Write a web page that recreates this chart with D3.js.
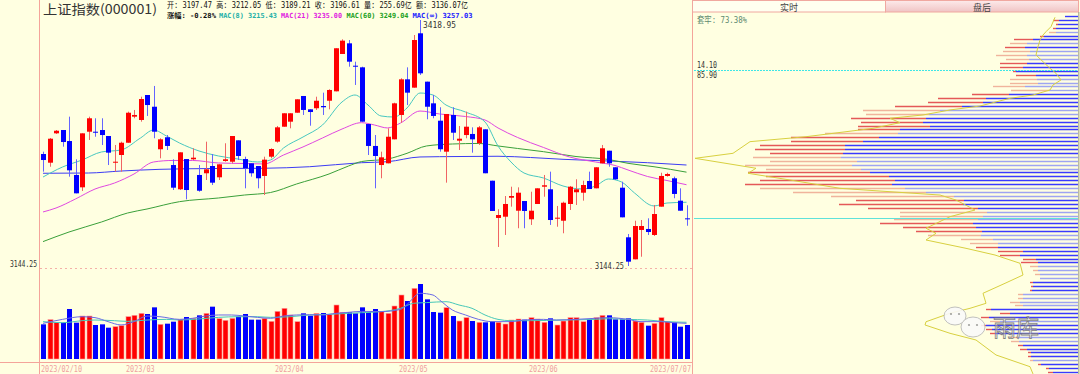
<!DOCTYPE html>
<html>
<head>
<meta charset="utf-8">
<script src="https://cdn.jsdelivr.net/npm/d3@7"></script>
<style>
  html, body { margin: 0; padding: 0; background: #ffffe1; }
  svg { display: block; }
</style>
</head>
<body>
<div id="container"></div>
<script>
/* CONSTANTS AND GLOBALS */
const width = 1080;
const height = 374;
const mono = "'DejaVu Sans Mono', 'Noto Sans CJK SC', monospace";
const cjk = "'Noto Sans CJK SC', 'DejaVu Sans', sans-serif";

/* DATA: daily candles 2023/02/10 - 2023/07/07 */
const open = [3269.3,3259.6,3292.4,3296.1,3283.8,3245.9,3232.1,3294.2,3294.2,3296.1,
  3289.4,3259.6,3268.2,3281.9,3311.0,3307.3,3335.2,3322.1,3274.6,3288.0,
  3257.0,3229.9,3263.7,3263.4,3245.9,3247.8,3255.9,3243.3,3261.5,3260.7,
  3284.6,3263.7,3258.9,3255.9,3244.8,3266.3,3283.1,3299.8,3305.4,3315.4,
  3334.1,3319.2,3320.4,3322.9,3328.8,3339.3,3381.0,3392.9,3367.9,3366.1,
  3302.8,3278.3,3257.0,3258.9,3285.7,3312.9,3352.7,3343.4,3404.1,3350.1,
  3325.9,3306.5,3271.9,3312.9,3284.2,3290.5,3291.7,3281.3,3296.9,3239.5,
  3197.9,3199.3,3220.5,3206.0,3216.8,3196.4,3213.5,3232.8,3229.9,3197.1,
  3194.8,3213.5,3226.6,3226.1,3239.2,3231.0,3258.9,3273.0,3254.5,3231.7,
  3176.3,3151.7,3184.5,3185.6,3178.9,3210.5,3244.8,3242.2,3217.2,3197.47];
const high = [3271.9,3287.2,3296.1,3296.1,3311.0,3263.4,3292.4,3311.0,3309.2,3309.2,
  3289.4,3279.4,3283.1,3316.6,3318.5,3333.3,3335.2,3345.3,3286.9,3290.5,
  3263.4,3271.2,3263.7,3275.7,3257.0,3283.1,3269.3,3257.8,3281.3,3289.4,
  3284.6,3266.3,3258.9,3255.9,3266.3,3275.7,3300.6,3314.8,3314.8,3330.4,
  3334.1,3319.2,3333.3,3337.8,3341.6,3387.4,3397.4,3396.6,3372.4,3366.8,
  3302.8,3290.5,3271.9,3298.0,3326.6,3353.9,3366.1,3402.2,3418.95,3350.1,
  3335.2,3321.5,3314.0,3321.5,3300.6,3316.6,3299.1,3300.6,3296.9,3239.5,
  3207.6,3222.4,3232.8,3232.1,3216.8,3227.2,3231.0,3245.9,3249.6,3211.3,
  3216.1,3233.6,3241.1,3239.5,3249.6,3254.5,3279.4,3273.0,3254.5,3238.4,
  3180.0,3194.8,3195.6,3197.5,3212.4,3248.4,3248.4,3244.0,3231.0,3212.05];
const low = [3249.6,3255.1,3291.7,3277.5,3244.0,3225.4,3228.0,3285.0,3288.6,3279.4,
  3257.0,3249.6,3249.6,3281.9,3309.2,3305.4,3311.8,3286.9,3264.5,3273.8,
  3229.1,3229.1,3218.7,3262.6,3227.2,3240.3,3234.7,3240.3,3260.7,3258.9,
  3262.6,3231.0,3244.0,3231.0,3223.5,3264.5,3281.9,3299.8,3298.0,3315.4,
  3312.9,3300.9,3318.5,3312.9,3319.2,3339.3,3381.0,3366.8,3346.4,3305.4,
  3268.2,3231.0,3242.2,3258.9,3285.7,3304.3,3324.0,3343.4,3357.6,3308.1,
  3309.2,3271.9,3237.3,3285.0,3273.8,3286.9,3270.8,3279.4,3247.8,3205.7,
  3165.5,3178.9,3210.5,3186.4,3186.4,3190.1,3213.5,3221.6,3190.1,3188.1,
  3180.8,3206.8,3212.4,3217.2,3230.2,3231.0,3258.9,3255.1,3240.3,3198.6,
  3144.25,3151.7,3154.6,3178.9,3177.8,3210.5,3244.0,3219.9,3206.0,3189.21];
const close = [3262.6,3286.4,3295.3,3282.7,3251.1,3225.4,3292.4,3309.2,3293.3,3290.5,
  3270.8,3260.7,3281.9,3315.4,3312.9,3330.7,3324.0,3294.2,3285.7,3278.3,
  3231.7,3271.2,3229.1,3265.2,3228.3,3252.2,3237.3,3257.8,3263.4,3289.4,
  3267.1,3253.4,3247.8,3242.2,3263.0,3274.9,3299.1,3314.8,3314.8,3330.4,
  3318.5,3316.2,3328.8,3321.5,3340.8,3387.4,3395.9,3372.4,3367.6,3305.4,
  3278.3,3267.1,3265.6,3288.6,3325.9,3352.7,3337.8,3396.6,3359.4,3322.1,
  3311.8,3274.6,3314.0,3293.1,3286.4,3299.8,3285.7,3299.1,3247.8,3205.7,
  3201.2,3213.5,3222.4,3226.1,3205.7,3206.0,3231.0,3234.4,3195.6,3198.2,
  3214.9,3232.8,3229.9,3234.7,3230.2,3254.5,3275.7,3258.9,3241.1,3198.6,
  3149.1,3188.9,3188.9,3182.2,3202.3,3244.8,3247.0,3224.7,3206.0,3196.61];
// volume, 亿股
const volume = [260.6,295.7,273.1,273.1,375.9,273.1,323.2,323.2,255.6,260.6,
  235.5,243.0,250.5,318.2,328.3,343.3,338.3,388.4,260.6,265.6,
  280.6,295.7,315.7,305.7,328.3,343.3,393.4,303.2,290.7,305.7,
  318.2,338.3,295.7,295.7,305.7,283.1,358.3,380.9,330.8,280.6,
  343.3,325.8,343.3,345.8,333.3,406.0,350.8,350.8,343.3,388.4,
  353.3,375.9,355.8,343.3,398.4,481.2,436.1,531.3,563.9,448.6,
  353.3,348.3,385.9,323.2,285.6,310.7,285.6,275.6,275.6,283.1,
  275.6,263.1,293.2,300.7,295.7,310.7,300.7,275.6,305.7,255.6,
  285.6,310.7,310.7,280.6,300.7,310.7,328.3,328.3,298.2,298.2,
  305.7,285.6,275.6,250.5,268.1,310.7,280.6,275.6,243.0,255.69];

/* cost averages read at sampled days: [day index, value] */
const mac8 = [[0,3243.6],[3,3254.8],[6,3262.6],[9,3271.6],[12,3273.8],[15,3287.2],[17,3296.1],
  [19,3289.4],[21,3281.6],[24,3272.7],[27,3267.1],[30,3263.7],[33,3260.4],[35,3262.6],[37,3276.0],
  [40,3288.3],[43,3301.7],[46,3327.4],[48,3335.2],[50,3324.0],[52,3311.8],[54,3310.6],[56,3320.7],
  [58,3337.4],[60,3335.2],[62,3324.0],[65,3316.2],[68,3305.1],[70,3278.3],[72,3260.4],[74,3248.1],
  [77,3242.5],[80,3233.6],[83,3230.2],[85,3233.6],[87,3241.4],[89,3238.1],[91,3225.8],[94,3211.3],
  [96,3214.6],[99,3215.43]];
const mac21 = [[0,3204.6],[2,3209.0],[5,3219.1],[8,3230.2],[11,3236.9],[14,3247.0],[17,3260.4],
  [20,3262.1],[23,3262.1],[27,3259.3],[31,3258.7],[34,3258.2],[37,3268.2],[40,3277.2],[43,3287.2],
  [46,3297.2],[49,3304.3],[51,3301.7],[53,3298.4],[55,3303.9],[58,3317.3],[61,3314.0],[65,3311.2],
  [68,3307.3],[70,3298.4],[73,3287.8],[77,3276.6],[81,3266.0],[85,3260.4],[88,3256.5],[90,3251.5],
  [93,3244.2],[96,3239.7],[99,3235.00]];
const mac60 = [[0,3171.5],[4,3182.2],[9,3193.4],[13,3203.4],[16,3207.9],[21,3216.1],[27,3220.2],
  [31,3223.5],[35,3226.3],[39,3235.8],[44,3247.0],[47,3255.9],[49,3260.9],[53,3263.7],[56,3270.1],
  [59,3278.3],[63,3280.5],[67,3281.1],[70,3278.3],[73,3275.5],[77,3271.9],[82,3266.5],[87,3263.2],
  [90,3258.9],[94,3255.1],[99,3249.04]];
const macInf = [[0,3247.8],[7,3248.1],[12,3250.3],[18,3252.2],[26,3253.1],[34,3253.4],[41,3255.1],
  [49,3259.6],[53,3260.7],[58,3266.0],[64,3266.5],[70,3266.8],[75,3265.4],[80,3263.4],[87,3261.5],
  [93,3259.6],[99,3257.03]];
const volMa5 = [[0,268],[3,298],[6,318],[8,311],[10,281],[12,256],[14,281],[16,323],[18,318],[21,298],
  [23,306],[25,323],[27,331],[29,331],[31,323],[33,313],[35,306],[37,323],[39,331],[41,333],[43,331],
  [45,343],[47,351],[49,358],[52,356],[55,373],[56,410],[58,494],[60,481],[61,444],[63,368],[65,331],
  [67,298],[69,281],[72,281],[74,293],[77,298],[79,293],[82,298],[85,306],[87,311],[90,298],[92,281],
  [95,281],[97,273],[99,268]];
const volMa10 = [[0,281],[3,273],[6,288],[8,293],[11,288],[13,283],[16,293],[19,298],[21,293],[24,301],
  [27,313],[30,318],[33,318],[35,313],[38,318],[41,331],[44,336],[47,343],[49,348],[52,356],[55,381],
  [57,419],[59,424],[62,431],[64,406],[66,381],[68,331],[70,298],[72,288],[75,288],[80,293],[85,298],
  [87,303],[90,298],[93,293],[96,281],[99,276]];

/* tick labels */
const tickIdx = [0, 13, 36, 55, 75, 99];
const tickLabels = ["2023/02/10", "2023/03", "2023/04", "2023/05", "2023/06", "2023/07/07"];

/* chip distribution rows, top (high price) to bottom */
const chipTotal = [13,25,22,25,29,38,64,68,73,75,82,72,78,78,65,62,68,68,85,67,
  106,140,150,183,215,212,227,217,220,220,253,287,287,318,323,308,325,308,333,312,
  330,312,318,333,318,285,247,222,239,210,178,178,184,198,175,162,150,117,108,102,
  80,78,55,57,48,45,43,38,48,47,48,60,60,68,63,92,78,97,88,97,
  92,88,68,67,60,58,50,50,48,40,32,30];
const chipRed = [0,6,2,3,7,4,19,17,20,27,31,23,27,23,3,20,27,28,32,38,
  37,48,55,67,77,63,75,62,72,42,73,88,72,85,90,73,88,87,107,95,
  122,123,135,147,145,133,123,108,124,110,87,83,84,93,73,66,53,32,28,22,
  25,20,13,17,8,5,5,0,3,2,2,5,5,10,8,5,10,8,10,5,
  6,5,8,8,5,7,3,3,3,3,3,5];
const chipFaded = [0,0,0,0,1,0,0,1,0,1,1,1,0,0,0,0,1,1,1,1,
  0,0,0,0,1,1,0,0,0,0,1,0,0,0,0,0,1,1,1,1,
  0,0,0,0,1,1,1,0,0,0,1,1,1,0,0,0,1,1,1,0,
  0,0,0,0,1,1,1,1,0,0,0,1,1,1,1,0,0,0,1,0,
  0,0,1,1,0,0,0,0,1,0,0,0];
// previous-period chip profile: [chip amount, price]
const chipPrev = [[23,3422.0],[27,3411.5],[32,3405.9],[35,3402.2],[38,3396.6],[40,3389.2],[42,3379.9],
  [35,3372.4],[28,3365.0],[22,3359.4],[17,3352.0],[25,3346.4],[28,3340.8],[45,3335.2],[68,3331.5],
  [98,3322.9],[128,3318.5],[155,3312.9],[188,3309.2],[178,3304.3],[205,3298.0],[272,3288.6],
  [328,3283.1],[345,3270.1],[383,3264.5],[322,3253.4],[330,3247.8],[288,3240.3],[238,3231.0],
  [188,3227.2],[138,3223.5],[122,3217.9],[103,3206.8],[128,3199.3],[152,3186.4],[142,3180.8],
  [152,3173.3],[112,3164.0],[83,3156.5],[58,3147.3],[55,3134.2],[73,3124.9],[95,3113.8],[92,3102.6],
  [108,3097.0],[128,3091.5],[152,3082.0],[153,3078.4],[128,3069.1],[102,3061.6],[82,3044.9],
  [48,3031.8],[45,3023.7]];

/* SVG ELEMENT */
const svg = d3.select("#container")
  .append("svg")
  .attr("width", width)
  .attr("height", height);

svg.append("rect").attr("width", width).attr("height", height).attr("fill", "#ffffe1");

/* SCALES */
const days = d3.range(open.length);
const xScale = d3.scalePoint().domain(days).range([43, 686.5]);
const cx = i => Math.round(xScale(i));
const yScale = d3.scaleLinear().domain([3144.25, 3418.95]).range([266, 20]);
const yVol = d3.scaleLinear().domain([0, 600]).range([359, 279.2]);
const xChip = d3.scaleLinear().domain([0, 384]).range([1078, 694]);
const rows = d3.range(chipTotal.length);
const yRow = d3.scalePoint().domain(rows).range([16, 372]);
const ry = r => Math.round(yRow(r)) + 0.5;

const isUp = i => close[i] >= open[i];

/* FRAME */
svg.append("line").attr("x1", 39.5).attr("x2", 39.5).attr("y1", 0).attr("y2", height)
  .attr("stroke", "#f4a49a");
svg.append("line").attr("x1", 0).attr("x2", 692).attr("y1", 362.5).attr("y2", 362.5)
  .attr("stroke", "#f4a49a");
svg.append("line").attr("x1", 692.5).attr("x2", 692.5).attr("y1", 0).attr("y2", height)
  .attr("stroke", "#f4a49a");

// lowest price guide
const lowY = Math.round(yScale(3144.25)) + 2.5;
svg.append("line").attr("x1", 40).attr("x2", 692).attr("y1", lowY).attr("y2", lowY)
  .attr("stroke", "#f4b0a8").attr("stroke-dasharray", "2,3");
svg.append("text").attr("x", 37).attr("y", lowY - 1.5).attr("text-anchor", "end")
  .attr("font-family", mono).attr("font-size", 9).attr("fill", "#333")
  .attr("textLength", 27).attr("lengthAdjust", "spacingAndGlyphs").text("3144.25");

/* AVERAGE LINES */
const line = d3.line().x(d => xScale(d[0])).y(d => yScale(d[1])).curve(d3.curveMonotoneX);
[[macInf, "#3c3cf4"], [mac60, "#3aa03a"], [mac21, "#e048e0"], [mac8, "#48c8c0"]].forEach(([s, c]) => {
  svg.append("path").datum(s).attr("d", line).attr("fill", "none").attr("stroke", c).attr("stroke-width", 1);
});

/* CANDLES */
const candles = svg.append("g").selectAll("g").data(days).join("g");
candles.append("line")
  .attr("x1", i => cx(i) + 0.5).attr("x2", i => cx(i) + 0.5)
  .attr("y1", i => yScale(high[i])).attr("y2", i => yScale(low[i]))
  .attr("stroke", i => isUp(i) ? "#f06464" : "#6464ff");
candles.append("rect")
  .attr("x", i => cx(i) - 2)
  .attr("width", 5)
  .attr("y", i => yScale(Math.max(open[i], close[i])))
  .attr("height", i => Math.max(1, Math.abs(yScale(open[i]) - yScale(close[i]))))
  .attr("fill", i => isUp(i) ? "#ff0000" : "#0000ff");

// extreme labels
const hiIdx = d3.maxIndex(high), loIdx = d3.minIndex(low);
svg.append("text").attr("x", cx(hiIdx) + 3).attr("y", yScale(high[hiIdx]) + 8)
  .attr("font-family", mono).attr("font-size", 9).attr("fill", "#333")
  .attr("textLength", 33).attr("lengthAdjust", "spacingAndGlyphs").text(d3.format(".2f")(high[hiIdx]));
svg.append("text").attr("x", cx(loIdx) - 4).attr("y", yScale(low[loIdx]) + 3)
  .attr("text-anchor", "end")
  .attr("font-family", mono).attr("font-size", 9).attr("fill", "#333")
  .attr("textLength", 29).attr("lengthAdjust", "spacingAndGlyphs").text(d3.format(".2f")(low[loIdx]));

/* VOLUME */
svg.append("g").selectAll("rect").data(days).join("rect")
  .attr("x", i => cx(i) - 2)
  .attr("width", 5)
  .attr("y", i => yVol(volume[i]))
  .attr("height", i => yVol(0) - yVol(volume[i]))
  .attr("fill", i => isUp(i) ? "#ff0000" : "#0000ff")
  .attr("stroke", i => isUp(i) ? "#ff9a9a" : "none")
  .attr("stroke-width", 0.6);

const vline = d3.line().x(d => xScale(d[0])).y(d => yVol(d[1])).curve(d3.curveMonotoneX);
svg.append("path").datum(volMa10).attr("d", vline).attr("fill", "none").attr("stroke", "#48c8b8");
svg.append("path").datum(volMa5).attr("d", vline).attr("fill", "none").attr("stroke", "#6a6ae6");

/* DATE AXIS */
svg.append("g").selectAll("text").data(tickIdx).join("text")
  .attr("x", (d, k) => k === tickIdx.length - 1 ? 691 : cx(d) - 2)
  .attr("y", 372)
  .attr("text-anchor", (d, k) => k === tickIdx.length - 1 ? "end" : "start")
  .attr("font-family", mono).attr("font-size", 9).attr("fill", "#f0a0a0")
  .attr("textLength", (d, k) => tickLabels[k].length * 4.1)
  .attr("lengthAdjust", "spacingAndGlyphs")
  .text((d, k) => tickLabels[k]);

/* TITLE AND INFO */
svg.append("text").attr("x", 43).attr("y", 13.5)
  .attr("font-family", cjk).attr("font-size", 13).attr("fill", "#333")
  .attr("textLength", 114).attr("lengthAdjust", "spacingAndGlyphs")
  .text("上证指数(000001)");

const last = open.length - 1;
svg.append("text").attr("x", 167).attr("y", 8)
  .attr("font-family", mono).attr("font-size", 8.5).attr("fill", "#111")
  .attr("textLength", 301).attr("lengthAdjust", "spacingAndGlyphs")
  .text(`开: ${open[last].toFixed(2)} 高: ${high[last].toFixed(2)} 低: ${low[last].toFixed(2)} 收: ${close[last].toFixed(2)} 量: ${volume[last].toFixed(2)}亿 额: 3136.07亿`);

// second info line
const legend = [
  { t: "涨幅: -0.28%", x: 167, w: 49, c: "#111" },
  { t: `MAC(8) ${mac8[mac8.length - 1][1].toFixed(2)}`, x: 219, w: 58, c: "#22b0a8" },
  { t: `MAC(21) ${mac21[mac21.length - 1][1].toFixed(2)}`, x: 281, w: 61, c: "#e020e0" },
  { t: `MAC(60) ${mac60[mac60.length - 1][1].toFixed(2)}`, x: 346.5, w: 62, c: "#20a020" },
  { t: `MAC(∞) ${macInf[macInf.length - 1][1].toFixed(2)}`, x: 412.5, w: 60, c: "#2020ff" }
];
svg.append("g").selectAll("text").data(legend).join("text")
  .attr("x", d => d.x).attr("y", 17.5)
  .attr("font-family", mono).attr("font-size", 7).attr("fill", d => d.c)
  .attr("font-weight", 600)
  .attr("textLength", d => d.w).attr("lengthAdjust", "spacingAndGlyphs")
  .text(d => d.t);

/* CHIP PANEL */
const defs = svg.append("defs");
const grad = defs.append("linearGradient").attr("id", "tab").attr("x1", 0).attr("x2", 0).attr("y1", 0).attr("y2", 1);
grad.append("stop").attr("offset", "0%").attr("stop-color", "#fdeaea");
grad.append("stop").attr("offset", "100%").attr("stop-color", "#f0c4c4");

svg.append("rect").attr("x", 692.5).attr("y", 0.5).attr("width", 193).attr("height", 11.5)
  .attr("fill", "#fffff0").attr("stroke", "#f0a8a0");
svg.append("rect").attr("x", 885.5).attr("y", 0.5).attr("width", 193).attr("height", 11.5)
  .attr("fill", "url(#tab)").attr("stroke", "#f0a8a0");
svg.append("text").attr("x", 789).attr("y", 10.5).attr("text-anchor", "middle")
  .attr("font-family", cjk).attr("font-size", 9).attr("fill", "#444").text("实时");
svg.append("text").attr("x", 982).attr("y", 10.5).attr("text-anchor", "middle")
  .attr("font-family", cjk).attr("font-size", 9).attr("fill", "#444").text("盘后");

const chips = svg.append("g").selectAll("g").data(rows).join("g");
chips.append("line")
  .attr("x1", r => xChip(chipTotal[r] - chipRed[r])).attr("x2", xChip(0))
  .attr("y1", ry).attr("y2", ry)
  .attr("stroke", r => chipFaded[r] ? "#9ea4f2" : "#3a3aff").attr("stroke-width", 1.4);
chips.append("line")
  .attr("x1", r => xChip(chipTotal[r])).attr("x2", r => xChip(chipTotal[r] - chipRed[r]))
  .attr("y1", ry).attr("y2", ry)
  .attr("stroke", r => chipFaded[r] ? "#f0b49c" : "#e45858").attr("stroke-width", 1.4);

svg.append("path").datum(chipPrev)
  .attr("d", d3.line().x(d => xChip(d[0])).y(d => yScale(d[1])))
  .attr("fill", "none").attr("stroke", "#d8d040").attr("stroke-width", 1);

// 90% cost band marker and current price
svg.append("line").attr("x1", 694).attr("x2", 1078).attr("y1", 70.5).attr("y2", 70.5)
  .attr("stroke", "#3ee6e6").attr("stroke-dasharray", "2,1");
const curY = Math.round(yScale(close[last])) - 0.5;
svg.append("line").attr("x1", 694).attr("x2", 1078).attr("y1", curY).attr("y2", curY)
  .attr("stroke", "#5ee2da");
svg.append("line").attr("x1", 1078.8).attr("x2", 1078.8).attr("y1", 12).attr("y2", height)
  .attr("stroke", "#a8a890").attr("stroke-width", 1.2);

svg.append("text").attr("x", 697).attr("y", 23)
  .attr("font-family", mono).attr("font-size", 9).attr("fill", "#5d8a70")
  .attr("textLength", 50).attr("lengthAdjust", "spacingAndGlyphs").text("套牢: 73.38%");
svg.append("text").attr("x", 697).attr("y", 68)
  .attr("font-family", mono).attr("font-size", 9).attr("fill", "#333")
  .attr("textLength", 20).attr("lengthAdjust", "spacingAndGlyphs").text("14.10");
svg.append("text").attr("x", 697).attr("y", 78)
  .attr("font-family", mono).attr("font-size", 9).attr("fill", "#333")
  .attr("textLength", 20).attr("lengthAdjust", "spacingAndGlyphs").text("85.90");

/* WATERMARK */
const wm = svg.append("g").attr("opacity", 0.9);
wm.append("ellipse").attr("cx", 955).attr("cy", 316).attr("rx", 11).attr("ry", 9)
  .attr("fill", "#fafafa").attr("stroke", "#bbb");
wm.append("ellipse").attr("cx", 973).attr("cy", 327).attr("rx", 12).attr("ry", 10)
  .attr("fill", "#fafafa").attr("stroke", "#bbb");
[[951, 314], [959, 314], [969, 325], [977, 325]].forEach(([a, b]) => {
  wm.append("circle").attr("cx", a).attr("cy", b).attr("r", 1.1).attr("fill", "#999");
});
wm.append("text").attr("x", 993).attr("y", 336)
  .attr("font-family", cjk).attr("font-size", 23)
  .attr("fill", "rgba(255,255,255,0.55)").attr("stroke", "#777").attr("stroke-width", 0.8)
  .text("雨库");
</script>
</body>
</html>
